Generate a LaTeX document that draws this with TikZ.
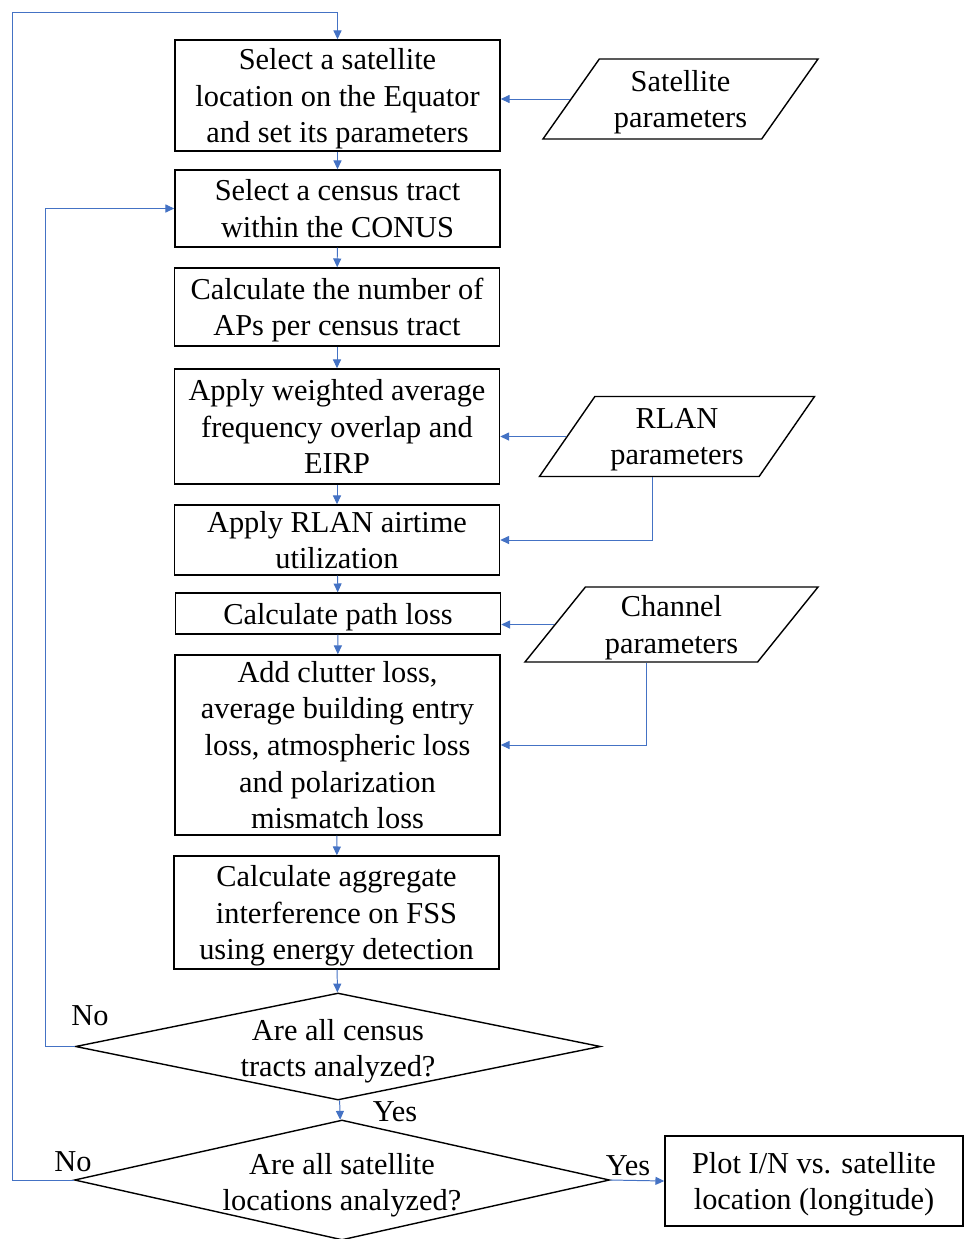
\documentclass[tikz,border=0pt]{standalone}
\usepackage{fontspec}
\setmainfont{Liberation Serif}
\usetikzlibrary{shapes.geometric,arrows.meta}
\definecolor{linkblue}{HTML}{4472C4}

\begin{document}
\begin{tikzpicture}[x=0.025cm,y=-0.025cm,
    font=\fontsize{21.6}{26}\selectfont,
    >={Triangle[length=0.22cm,width=0.2cm]},
    process/.style={draw,line width=1pt,align=center,minimum width=8.125cm,inner sep=0pt,text depth=0pt},
    iobox/.style={draw,line width=1pt,align=center,trapezium,trapezium left angle=47,
        trapezium right angle=133,trapezium stretches body,minimum width=6.875cm,
        minimum height=2cm,inner sep=1pt,text depth=0pt},
    decision/.style={draw,line width=1pt,diamond,inner sep=0pt},
    link/.style={linkblue,line width=0.7pt}]
    \useasboundingbox (0,0) rectangle (964,1239);

    % main chain
    \node[process,minimum height=2.775cm] (b1) at (337.5,95.5) {Select a satellite\\location on the Equator\\and set its parameters};
    \node[process,minimum height=1.925cm] (b2) at (337.5,208.5) {Select a census tract\\within the CONUS};
    \node[process,minimum height=1.95cm] (b3) at (337,307) {Calculate the number of\\APs per census tract};
    \node[process,minimum height=2.875cm] (b4) at (337,426.5) {Apply weighted average\\frequency overlap and\\EIRP};
    \node[process,minimum height=1.75cm] (b5) at (337,540) {Apply RLAN airtime\\utilization};
    \node[process,minimum height=1.025cm] (b6) at (338,613.5) {Calculate path loss};
    \node[process,minimum height=4.5cm] (b7) at (337.5,745) {Add clutter loss,\\average building entry\\loss, atmospheric loss\\and polarization\\mismatch loss};
    \node[process,minimum height=2.825cm] (b8) at (336.5,912.5) {Calculate aggregate\\interference on FSS\\using energy detection};
    \node[decision,minimum width=13.125cm,minimum height=2.675cm] (q1) at (338,1046.5) {};
    \node[align=center,text depth=0pt] (q1text) at (338,1048) {Are all census\\tracts analyzed?};
    \node[decision,minimum width=13.375cm,minimum height=3cm] (q2) at (342,1180) {};
    \node[align=center,text depth=0pt] (q2text) at (342,1182) {Are all satellite\\locations analyzed?};
    \node[process,minimum width=7.45cm,minimum height=2.25cm] (plot) at (814,1181) {Plot I/N vs. satellite\\location (longitude)};

    % inputs
    \node[iobox] (sat) at (680.5,99) {Satellite\\parameters};
    \node[iobox] (rlan) at (677,436.5) {RLAN\\parameters};
    \node[iobox,trapezium left angle=45,trapezium right angle=135,minimum width=7.325cm,minimum height=1.875cm] (chan) at (671.5,624.5) {Channel\\parameters};

    % branch labels
    \node (no1) at (90,1016) {No};
    \node (yes1) at (395,1112) {Yes};
    \node (no2) at (73,1162) {No};
    \node (yes2) at (628,1166) {Yes};

    \coordinate (outer) at (12,12);
    \coordinate (inner) at (45,0);

    \draw[link,->] (b1) -- (b2);
    \draw[link,->] (b2) -- (b3);
    \draw[link,->] (b3) -- (b4);
    \draw[link,->] (b4) -- (b5);
    \draw[link,->] (b5) -- (b6);
    \draw[link,->] (b6) -- (b7);
    \draw[link,->] (b7) -- (b8);
    \draw[link,->] (b8) -- (q1);
    \draw[link,->] (q1) -- (q2);
    \draw[link,->] (q2.east) -- (plot.west);
    \draw[link,->] (q1.west) -| (inner |- b2.west) -- (b2.west);
    \draw[link,->] (q2.west) -| (outer) -| (b1.north);

    \draw[link,->] (sat.left side) -- (sat.left side -| b1.east);
    \draw[link,->] (rlan.left side) -- (rlan.left side -| b4.east);
    \draw[link,->] ([xshift=0.1cm]rlan.bottom side) |- (b5.east);
    \draw[link,->] (chan.left side) -- (chan.left side -| b6.east);
    \draw[link,->] ([xshift=0.15cm]chan.bottom side) |- (b7.east);
\end{tikzpicture}
\end{document}
